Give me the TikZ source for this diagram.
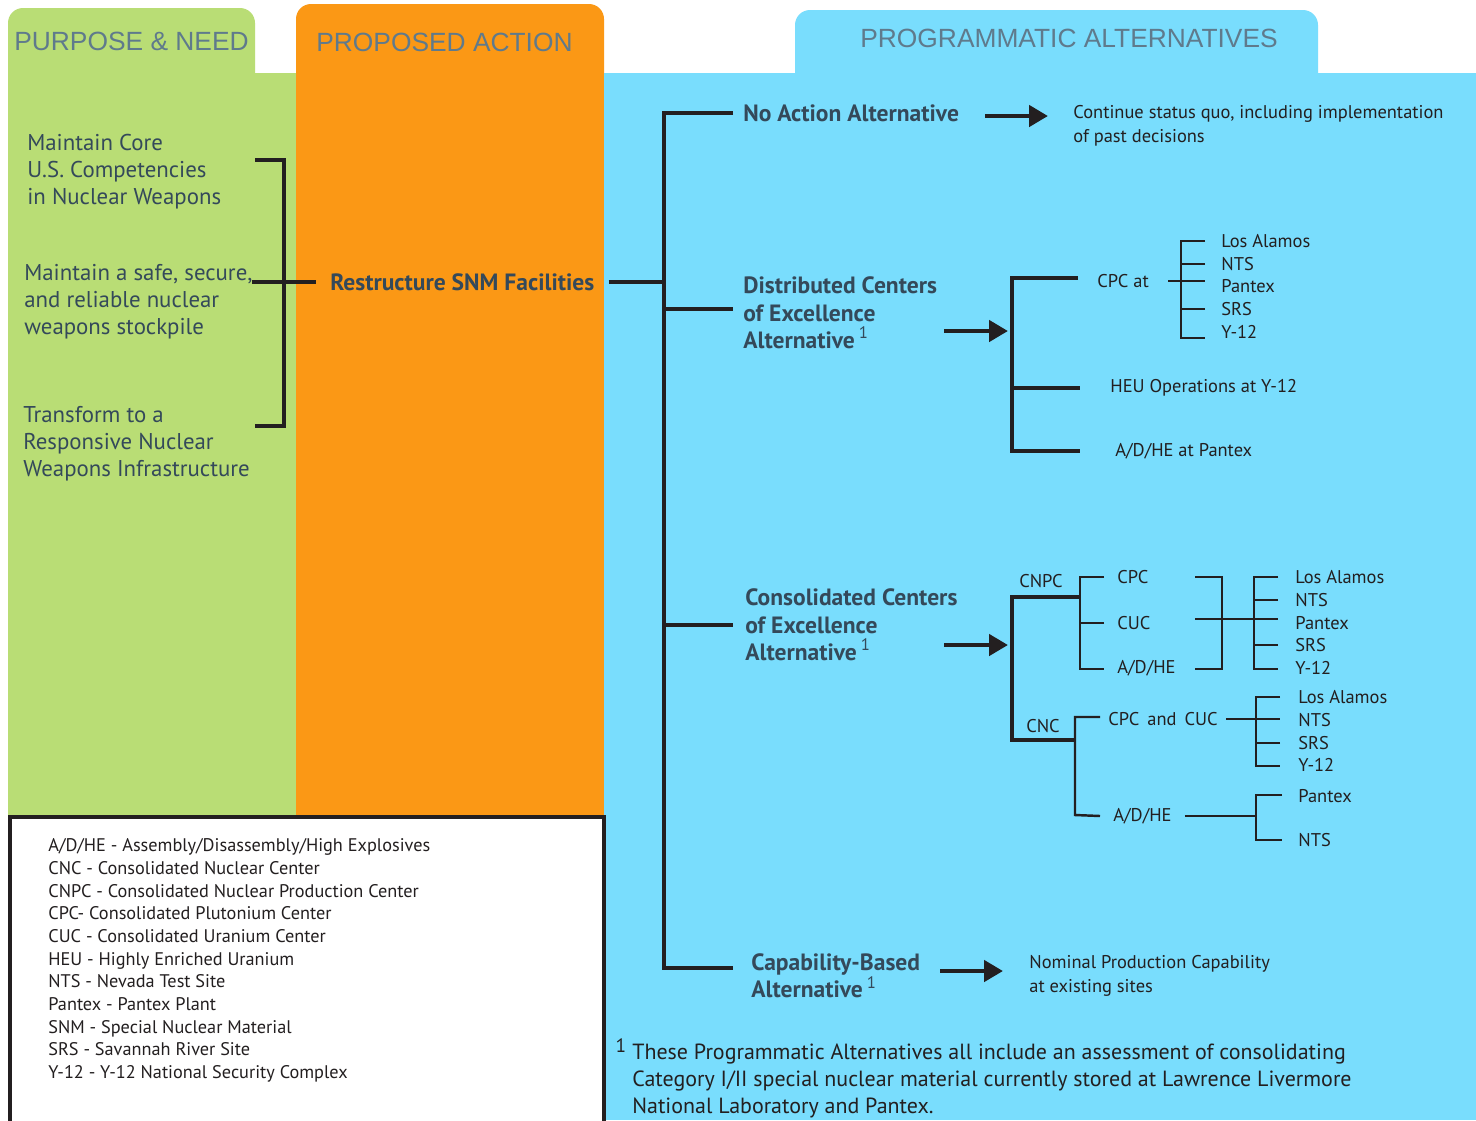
\documentclass[tikz,border=0pt]{standalone}
\usepackage{fontspec}
\setmainfont{PT Sans}
\newfontfamily\hdrfont{Liberation Sans}
\usetikzlibrary{arrows.meta}
\definecolor{greenbg}{HTML}{B9DD75}
\definecolor{orangebg}{HTML}{FB9815}
\definecolor{bluebg}{HTML}{79DDFD}
\definecolor{hdrtxt}{HTML}{5F7A8C}
\definecolor{slate}{HTML}{34495A}
\definecolor{ink}{HTML}{231F20}
\newcommand{\fnmark}{\,\raisebox{0.42em}{\mdseries\fontsize{9.5}{9.5}\selectfont 1}}

\begin{document}
\begin{tikzpicture}[x=0.02cm, y=-0.02cm,
    hdr/.style={font=\hdrfont\fontsize{15}{18}\selectfont, text=hdrtxt, anchor=west, inner sep=0pt},
    goal/.style={font=\fontsize{13}{15.4}\selectfont, text=slate, align=left, anchor=west, inner sep=0pt},
    alt/.style={font=\bfseries\fontsize{13.4}{15.6}\selectfont, text=slate, align=left, anchor=west, inner ysep=0pt, inner xsep=0.2cm},
    note/.style={font=\fontsize{10.5}{13.6}\selectfont, text=ink, align=left, anchor=west, inner ysep=0pt},
    site/.style={font=\fontsize{10.5}{12}\selectfont, text=ink, anchor=west, inner ysep=0pt},
    trunk/.style={draw=ink, line width=2pt},
    twig/.style={draw=ink, line width=1.4pt},
    arr/.style={draw=ink, line width=2.6pt, -{Triangle[length=0.38cm, width=0.42cm]}},
  ]
  \useasboundingbox (0,0) rectangle (1476,1120);
  \fill[white] (0,0) rectangle (1476,1120);

  % column backgrounds
  \fill[greenbg, rounded corners=0.3cm] (8,8) rectangle (255,120);
  \fill[greenbg] (8,73) rectangle (296,815);
  \fill[orangebg, rounded corners=0.3cm] (296,4) rectangle (604,200);
  \fill[orangebg] (296,100) rectangle (604,815);
  \fill[bluebg, rounded corners=0.3cm] (795,10) rectangle (1318,120);
  \fill[bluebg] (604,73) rectangle (1476,1120);
  \draw[ink, line width=1.8pt, fill=white] (10,817) rectangle (604,1130);

  % headers
  \node[hdr] (hPN) at (14,41) {PURPOSE \& NEED};
  \node[hdr] (hPA) at (316,42) {PROPOSED ACTION};
  \node[hdr] (hPG) at (860,38) {PROGRAMMATIC ALTERNATIVES};

  % purpose and need
  \node[goal] (g1) at (27,172) {Maintain Core\\U.S. Competencies\\in Nuclear Weapons};
  \node[goal] (g2) at (24,302) {Maintain a safe, secure,\\and reliable nuclear\\weapons stockpile};
  \node[goal] (g3) at (23,444) {Transform to a\\Responsive Nuclear\\Weapons Infrastructure};
  \coordinate (bT) at (284,160);
  \coordinate (bB) at (284,426);
  \coordinate (bM) at (252,282);
  \draw[trunk] (255,160) -- (bT) -- (bB) -- (255,426);

  % proposed action
  \node[alt, inner xsep=0.28cm] (rs) at (316,282) {Restructure SNM Facilities};
  \draw[trunk] (bM) -- (rs.west);

  % spine of the alternatives
  \coordinate (s1) at (664,113);
  \coordinate (s4) at (664,968);
  \node[alt] (noact) at (733,113) {No Action Alternative};
  \node[alt] (dist) at (733,313) {Distributed Centers\\of Excellence\\Alternative\fnmark};
  \node[alt, inner xsep=0.24cm] (cons) at (733,625) {Consolidated Centers\\of Excellence\\Alternative\fnmark};
  \node[alt, inner xsep=0.36cm] (capb) at (733,976) {Capability-Based\\Alternative\fnmark};
  \draw[trunk] (rs.east) -- (rs.east -| s1);
  \draw[trunk] (noact.west) -- (s1) -- (s4) -- (s4 -| capb.west);
  \draw[trunk] (s1 |- 0,309) -- (dist.west |- 0,309);
  \draw[trunk] (cons.west -| s1) -- (cons.west);

  % no action
  \node[note, inner xsep=0.5cm] (cont) at (1048,126) {Continue status quo, including implementation\\of past decisions};
  \coordinate (aNA) at (985,116);
  \draw[arr] (aNA) -- (aNA -| cont.west);

  % distributed centers
  \coordinate (aD1) at (944,331);
  \coordinate (aD2) at (1008,331);
  \draw[arr] (aD1) -- (aD2);
  \coordinate (d1) at (1012,278);
  \coordinate (d3) at (1012,451);
  \node[note, inner xsep=0.38cm] (cpcat) at (1078,281) {CPC at};
  \node[note, inner xsep=0.6cm] (heu) at (1080,388) {HEU Operations at Y-12};
  \node[note, inner xsep=0.7cm] (adpx) at (1080,451) {A/D/HE at Pantex};
  \draw[trunk] (d1 -| cpcat.west) -- (d1) -- (d3) -- (adpx.west);
  \draw[trunk] (heu.west -| d1) -- (heu.west);
  \coordinate (dbT) at (1181,241);
  \coordinate (dbB) at (1181,338);
  \node[site, inner xsep=0.32cm] (dLA) at (1205,241) {Los Alamos};
  \node[site, inner xsep=0.32cm] (dNT) at (1205,264) {NTS};
  \node[site, inner xsep=0.32cm] (dPX) at (1205,286) {Pantex};
  \node[site, inner xsep=0.32cm] (dSR) at (1205,309) {SRS};
  \node[site, inner xsep=0.32cm] (dY) at (1205,332) {Y-12};
  \draw[twig] (dLA.west) -- (dbT) -- (dbB) -- (dbB -| dY.west);
  \draw[twig] (dNT.west) -- (dNT.west -| dbT);
  \draw[twig] (dSR.west) -- (dSR.west -| dbT);
  \draw[twig] (cpcat.east) -- (cpcat.east -| dPX.west);

  % consolidated centers
  \coordinate (aC1) at (944,645);
  \coordinate (aC2) at (1008,645);
  \draw[arr] (aC1) -- (aC2);
  \coordinate (c1) at (1012,597);
  \coordinate (c2) at (1012,740);
  \coordinate (npJ) at (1080,597);
  \coordinate (ncJ) at (1075,740);
  \draw[trunk] (npJ) -- (c1) -- (c2) -- (ncJ);
  \node[site, anchor=center] (cnpc) at (1041,581) {CNPC};
  \node[site, anchor=center] (cnc) at (1043,726) {CNC};

  % CNPC branch
  \coordinate (npT) at (1080,577);
  \coordinate (npB) at (1080,669);
  \node[site, inner xsep=0.26cm] (nCPC) at (1104,577) {CPC};
  \node[site, inner xsep=0.26cm] (nCUC) at (1104,623) {CUC};
  \node[site, inner xsep=0.26cm] (nAD) at (1104,668) {A/D/HE};
  \draw[twig] (nCPC.west) -- (npT) -- (npB) -- (npB -| nAD.west);
  \draw[twig] (nCUC.west) -- (nCUC.west -| npT);
  \coordinate (rbT) at (1222,577);
  \coordinate (rbB) at (1222,669);
  \coordinate (rbM) at (1195,619);
  \draw[twig] (1195,577) -- (rbT) -- (rbB) -- (1195,669);
  \coordinate (nbT) at (1254,577);
  \coordinate (nbB) at (1254,669);
  \node[site, inner xsep=0.34cm] (nLA) at (1278,577) {Los Alamos};
  \node[site, inner xsep=0.34cm] (nNT) at (1278,600) {NTS};
  \node[site, inner xsep=0.34cm] (nPX) at (1278,623) {Pantex};
  \node[site, inner xsep=0.34cm] (nSR) at (1278,645) {SRS};
  \node[site, inner xsep=0.34cm] (nY) at (1278,668) {Y-12};
  \draw[twig] (nLA.west) -- (nbT) -- (nbB) -- (nbB -| nY.west);
  \draw[twig] (rbM) -- (rbM -| nPX.west);
  \draw[twig] (nNT.west) -- (nNT.west -| nbT);
  \draw[twig] (nSR.west) -- (nSR.west -| nbT);

  % CNC branch
  \coordinate (ccT) at (1075,717);
  \coordinate (ccB) at (1075,815);
  \node[site, inner xsep=0.16cm] (kCC) at (1100,719) {CPC\, and\, CUC};
  \node[site, inner xsep=0.26cm] (kAD) at (1100,816) {A/D/HE};
  \draw[twig] (ccT -| kCC.west) -- (ccT) -- (ncJ) -- (ccB) -- (kAD.west);
  \coordinate (kbT) at (1256,697);
  \coordinate (kbB) at (1256,766);
  \node[site, inner xsep=0.36cm] (kLA) at (1280,697) {Los Alamos};
  \node[site, inner xsep=0.36cm] (kNT) at (1280,720) {NTS};
  \node[site, inner xsep=0.36cm] (kSR) at (1280,743) {SRS};
  \node[site, inner xsep=0.36cm] (kY) at (1280,765) {Y-12};
  \draw[twig] (kLA.west) -- (kbT) -- (kbB) -- (kbB -| kY.west);
  \draw[twig] (kCC.east) -- (kCC.east -| kNT.west);
  \draw[twig] (kSR.west) -- (kSR.west -| kbT);
  \coordinate (pbT) at (1256,795);
  \coordinate (pbB) at (1256,840);
  \node[site, inner xsep=0.32cm] (pPX) at (1282,796) {Pantex};
  \node[site, inner xsep=0.32cm] (pNT) at (1282,840) {NTS};
  \draw[line width=1.1pt, ink] (pPX.west |- pbT) -- (pbT) -- (pbB) -- (pNT.west);
  \draw[line width=1.1pt, ink] (kAD.east) -- (kAD.east -| pbT);

  % capability based
  \coordinate (aK1) at (940,971);
  \node[note, inner xsep=0.52cm] (nom) at (1003,976) {Nominal Production Capability\\at existing sites};
  \draw[arr] (aK1) -- (aK1 -| nom.west);

  % footnote
  \node[font=\fontsize{11}{12}\selectfont, text=ink, inner sep=0pt] (fn1) at (621,1046) {1};
  \node[font=\fontsize{12.5}{15.4}\selectfont, text=ink, align=left, anchor=west, inner sep=0pt] (fn) at (632,1081)
    {These Programmatic Alternatives all include an assessment of consolidating\\Category I/II special nuclear material currently stored at Lawrence Livermore\\National Laboratory and Pantex.};

  % legend
  \node[font=\fontsize{10.4}{12.9}\selectfont, text=ink, align=left, anchor=west, inner sep=0pt] (legend) at (48,960.5)
    {A/D/HE - Assembly/Disassembly/High Explosives\\
     CNC - Consolidated Nuclear Center\\
     CNPC - Consolidated Nuclear Production Center\\
     CPC- Consolidated Plutonium Center\\
     CUC - Consolidated Uranium Center\\
     HEU - Highly Enriched Uranium\\
     NTS - Nevada Test Site\\
     Pantex - Pantex Plant\\
     SNM - Special Nuclear Material\\
     SRS - Savannah River Site\\
     Y-12 - Y-12 National Security Complex};
\end{tikzpicture}
\end{document}
